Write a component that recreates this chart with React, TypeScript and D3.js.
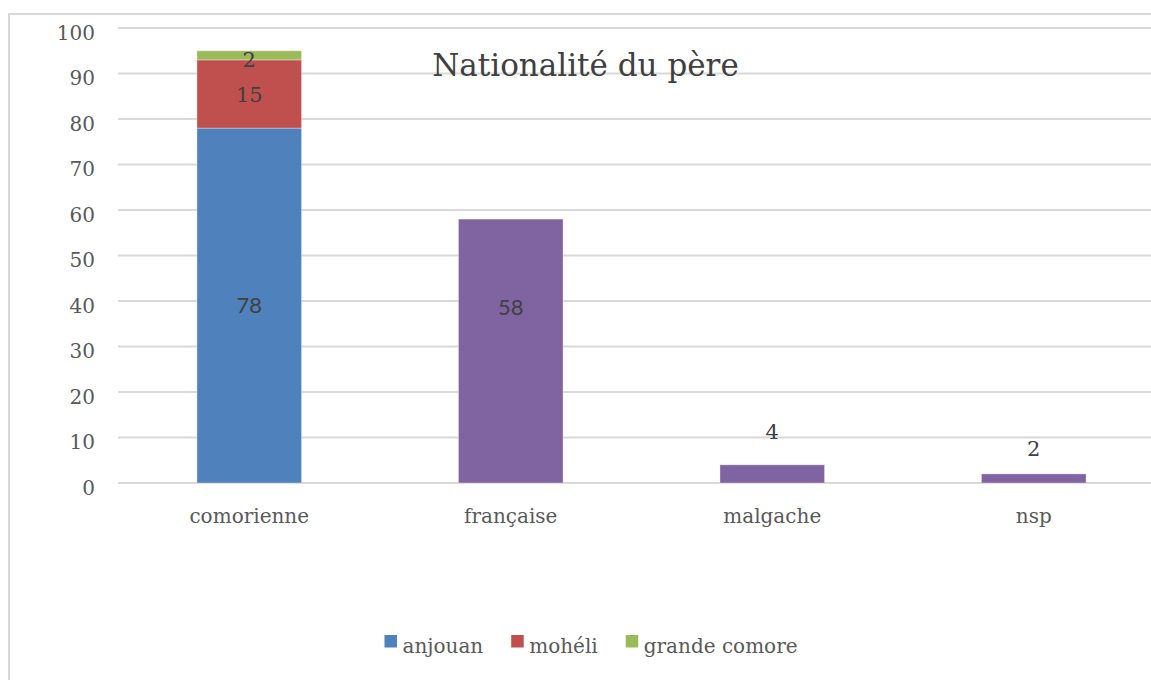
import React, { useEffect, useRef } from "react";
import * as d3 from "d3";

// chart data
const categories = ["comorienne", "française", "malgache", "nsp"];
const anjouan = [78, 0, 0, 0];
const moheli = [15, 0, 0, 0];
const grandeComore = [2, 0, 0, 0];
const autre = [0, 58, 4, 2];
// where the labels of the single-colour bars sit (value units, as placed in the original)
const autreLabelAt = [0, 38.7, 11.3, 7.6];
const yTicks = [0, 10, 20, 30, 40, 50, 60, 70, 80, 90, 100];
const legendNames = ["anjouan", "mohéli", "grande comore"];

const colors = ["#4F81BD", "#C0504D", "#9BBB59", "#8064A2"];
const serif = "'DejaVu Serif', serif";
const sans = "Lato, 'Open Sans', sans-serif";

export default function App() {
  const ref = useRef<SVGSVGElement>(null);

  useEffect(() => {
    const width = 1151;
    const height = 680;
    const svg = d3.select(ref.current);
    svg.selectAll("*").remove();
    svg.attr("width", width).attr("height", height);

    // chart border
    svg.append("rect")
      .attr("x", 9).attr("y", 14)
      .attr("width", 1200).attr("height", 700)
      .attr("fill", "white")
      .attr("stroke", "#D9D9D9")
      .attr("stroke-width", 2);

    const x = d3.scaleBand()
      .domain(categories)
      .range([118.5, 1164.5])
      .paddingInner(0.6)
      .paddingOuter(0.3);

    const y = d3.scaleLinear().domain([0, 100]).range([483, 28]);

    // gridlines
    svg.append("g")
      .selectAll("line")
      .data(yTicks)
      .enter()
      .append("line")
      .attr("x1", 118).attr("x2", 1164.5)
      .attr("y1", d => y(d)).attr("y2", d => y(d))
      .attr("stroke", "#D9D9D9")
      .attr("stroke-width", 2);

    // y tick labels
    svg.append("g")
      .selectAll("text")
      .data(yTicks)
      .enter()
      .append("text")
      .attr("x", 95)
      .attr("y", d => y(d) + 11.5)
      .attr("text-anchor", "end")
      .style("font-family", serif)
      .style("font-size", "20px")
      .attr("fill", "#595959")
      .text(d => d);

    // stacked bars
    const rows = categories.map((c, i) => ({
      cat: c, anjouan: anjouan[i], moheli: moheli[i], grandeComore: grandeComore[i], autre: autre[i]
    }));
    const keys = ["anjouan", "moheli", "grandeComore", "autre"];
    const stacked = d3.stack<any>().keys(keys)(rows);

    stacked.forEach((layer, li) => {
      svg.append("g")
        .selectAll("rect")
        .data(layer.filter(d => d[1] - d[0] > 0))
        .enter()
        .append("rect")
        .attr("x", d => x(d.data.cat)!)
        .attr("width", x.bandwidth())
        .attr("y", d => y(d[1]))
        .attr("height", d => y(d[0]) - y(d[1]))
        .attr("fill", colors[li])
        .attr("stroke", "white")
        .attr("stroke-opacity", 0.35)
        .attr("stroke-width", 1);
    });

    // labels for the stacked comorienne bar
    const stackSizes = [20, 21, 21];
    stacked.slice(0, 3).forEach((layer, li) => {
      layer.filter(d => d[1] - d[0] > 0).forEach(d => {
        const mid = (d[0] + d[1]) / 2 - (li === 2 ? 0.8 : 0);
        svg.append("text")
          .attr("x", x(d.data.cat)! + x.bandwidth() / 2)
          .attr("y", y(mid))
          .attr("dy", li === 0 ? "0.36em" : "0.37em")
          .attr("text-anchor", "middle")
          .style("font-family", li === 0 ? sans : serif)
          .style("font-size", (li === 0 ? 22 : stackSizes[li]) + "px")
          .attr("fill", "#404040")
          .text(d[1] - d[0]);
      });
    });

    // labels for the single-colour bars
    categories.forEach((c, i) => {
      if (autre[i] <= 0) return;
      const inside = autreLabelAt[i] < autre[i];
      svg.append("text")
        .attr("x", x(c)! + x.bandwidth() / 2)
        .attr("y", y(autreLabelAt[i]))
        .attr("dy", inside ? "0.36em" : "0.37em")
        .attr("text-anchor", "middle")
        .style("font-family", inside ? sans : serif)
        .style("font-size", inside ? "22px" : "21px")
        .attr("fill", "#404040")
        .text(autre[i]);
    });

    // category labels
    svg.append("g")
      .selectAll("text")
      .data(categories)
      .enter()
      .append("text")
      .attr("x", d => x(d)! + x.bandwidth() / 2)
      .attr("y", 523)
      .attr("text-anchor", "middle")
      .style("font-family", serif)
      .style("font-size", "20px")
      .attr("fill", "#595959")
      .text(d => d);

    // title
    svg.append("text")
      .attr("x", 585.5)
      .attr("y", 76)
      .attr("text-anchor", "middle")
      .style("font-family", serif)
      .style("font-size", "31px")
      .attr("fill", "#404040")
      .text("Nationalité du père");

    // legend
    const legend = svg.append("g");
    let cursor = 0;
    legendNames.forEach((name, i) => {
      const item = legend.append("g").attr("transform", `translate(${cursor},0)`);
      item.append("rect")
        .attr("x", 0).attr("y", -18)
        .attr("width", 12.5).attr("height", 12.5)
        .attr("fill", colors[i]);
      const t = item.append("text")
        .attr("x", 18).attr("y", 0)
        .style("font-family", serif)
        .style("font-size", "20px")
        .attr("fill", "#595959")
        .text(name);
      const w = (t.node() as SVGTextElement).getComputedTextLength();
      cursor += 18 + w + 28;
    });
    const total = cursor - 28;
    legend.attr("transform", `translate(${591 - total / 2},653)`);
  }, []);

  return (
    <svg ref={ref} style={{ position: "absolute", left: 0, top: 0, display: "block" }} />
  );
}
